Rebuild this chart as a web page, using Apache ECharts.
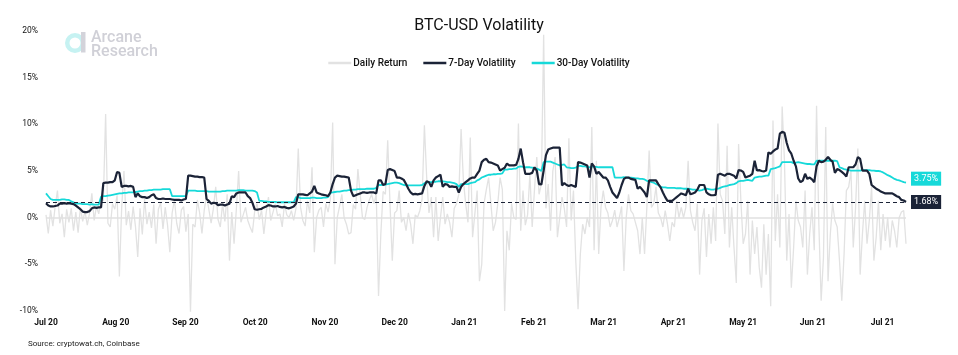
<!DOCTYPE html>
<html>
<head>
<meta charset="utf-8">
<script src="https://cdn.jsdelivr.net/npm/echarts@6/dist/echarts.min.js"></script>
<style>
html,body{margin:0;padding:0;background:#fff;}
#chart{width:958px;height:355px;}
</style>
</head>
<body>
<div id="chart"></div>
<script>
// Month tick labels (equally spaced on the x axis, ~30.4 days apart)
var monthLabels = ['Jul 20','Aug 20','Sep 20','Oct 20','Nov 20','Dec 20','Jan 21','Feb 21','Mar 21','Apr 21','May 21','Jun 21','Jul 21'];
var monthStep = 30.4;
var yTicks = [-10, -5, 0, 5, 10, 15, 20];

// Daily return (%), one value per day from 1 Jul 2020
var dailyReturn = [
0.3,-1.7,0.8,-0.9,1.2,2.9,-0.6,0.4,-2.1,0.9,
-0.5,1.0,-1.4,0.6,-1.6,1.1,-0.4,0.7,-0.8,0.5,
2.6,-0.3,1.2,0.4,2.0,1.8,11.1,-0.6,-1.0,1.5,
0.9,2.4,-6.3,1.1,5.0,-0.8,0.7,-1.3,1.2,-0.9,
-4.2,1.0,-1.8,2.0,-0.7,0.6,-1.1,1.4,-2.8,0.9,
1.6,-1.2,1.1,-0.8,-3.7,0.5,1.9,-0.6,-1.7,0.8,
1.2,-1.5,0.4,-10.1,-0.7,-1.0,1.9,0.5,-1.7,0.8,
2.4,0.9,-0.6,1.0,3.3,-0.2,-1.0,1.5,-0.4,2.5,
-4.6,0.6,-2.8,0.9,5.0,-0.5,0.3,1.1,-0.3,-1.0,
-1.6,0.7,1.5,-0.2,0.8,-1.75,0.5,2.2,-0.3,0.6,
1.5,0.2,0.4,-1.0,1.5,0.3,0.0,0.75,-0.3,1.0,
7.4,1.1,-0.3,-0.9,1.8,0.5,5.4,-3.7,0.0,0.8,
1.1,-1.0,1.5,0.6,2.0,10.2,-5.0,0.0,1.2,2.5,
0.0,-0.7,-1.75,-1.6,1.4,0.9,5.2,2.5,0.0,-0.2,
1.1,1.9,2.5,1.5,2.5,-8.4,-1.75,2.8,2.5,8.3,
1.5,-4.6,0.5,0.75,2.9,-0.5,0.0,-1.4,0.5,-0.7,
-2.8,0.3,0.04,0.75,2.0,9.9,4.3,0.5,2.2,-2.1,
2.2,-2.5,0.0,2.2,-0.7,0.4,-0.5,-2.1,1.0,1.5,
2.5,9.5,4.0,1.5,-0.5,8.6,-2.1,0.4,2.9,-6.8,
-5.0,1.5,3.0,4.3,1.5,-1.4,-0.5,1.5,4.3,3.0,
-10.0,-1.4,-3.5,1.5,0.0,-0.2,10.1,-1.4,2.9,-0.8,
0.3,4.7,-1.0,3.0,6.5,2.5,3.6,19.6,1.0,3.6,
-1.4,5.0,6.5,-2.1,0.0,2.2,1.0,-1.0,8.5,-0.3,
2.9,-4.6,-9.8,-3.9,-0.7,-1.75,0.0,-1.0,9.7,-3.5,
6.1,-3.9,1.1,2.9,1.1,0.5,-1.0,-0.3,0.8,-1.0,
0.0,1.2,-5.7,0.0,2.5,0.75,0.4,-0.5,-1.4,-3.9,
0.0,-3.9,1.1,7.2,1.1,1.5,3.3,0.5,0.0,-1.0,
0.75,-0.7,-2.5,-0.5,-1.0,1.8,0.0,1.1,0.0,1.1,
6.1,0.75,-0.5,-1.4,1.5,-6.1,-0.3,1.0,-4.2,0.4,
-2.8,1.1,-2.5,10.1,2.5,1.8,-1.75,7.7,-3.2,1.1,
-3.2,-7.0,7.9,1.8,-2.8,-1.75,1.8,-6.1,-0.3,-3.9,
-1.0,-5.3,-7.5,-0.7,-6.1,-1.75,-9.5,10.4,-2.5,2.5,
-3.2,11.9,6.1,-4.6,0.4,-7.5,-3.2,1.8,-0.3,-1.0,
-3.2,2.9,-6.1,-1.75,1.1,-3.5,12.0,-0.7,-8.9,-4.3,
9.7,-6.8,-1.75,1.5,-0.3,-1.0,-4.6,-8.9,-3.9,2.9,
3.3,5.0,-3.2,1.0,7.4,-6.1,-1.75,1.8,-2.8,-0.3,
3.3,-4.6,-2.1,1.8,-3.5,0.4,-2.5,0.0,-3.2,-0.3,
-1.4,-3.2,0.0,0.6,0.75,-2.8
];

// 7-day volatility (%)
var vol7 = [
1.55,1.3,1.2,1.2,1.25,1.3,1.5,1.5,1.55,1.5,
1.55,1.5,1.45,1.3,1.1,0.9,0.65,0.6,0.6,0.7,
1.0,1.1,1.05,1.1,1.1,3.7,3.75,3.75,3.8,3.8,
4.0,4.9,4.8,3.3,3.4,3.4,3.35,3.4,3.3,2.2,
2.6,2.3,2.2,2.2,2.1,2.2,2.4,2.5,2.1,2.0,
2.0,2.05,2.0,2.0,2.0,1.95,1.9,1.9,1.9,1.85,
1.95,2.0,4.5,4.5,4.45,4.4,4.4,4.35,4.35,4.3,
2.0,1.8,1.5,1.6,1.55,1.35,1.4,1.4,1.3,1.4,
1.5,2.3,2.2,2.6,2.7,2.7,2.7,2.7,2.3,2.1,
1.6,0.9,0.85,0.9,0.95,1.1,1.2,1.35,1.3,1.2,
1.2,1.25,1.15,1.1,1.15,1.05,1.0,1.1,1.2,1.5,
2.5,2.5,2.5,2.45,2.4,2.6,2.8,3.4,2.7,2.6,
2.5,2.45,2.4,2.3,2.7,3.6,4.3,4.5,4.45,4.4,
4.4,4.35,4.3,2.9,2.3,2.4,2.5,2.6,2.7,2.7,
2.65,2.7,2.7,2.7,2.6,4.0,4.0,3.5,3.6,5.1,
5.2,5.1,5.0,4.3,4.3,4.2,4.05,3.6,3.1,2.7,
2.5,2.55,2.5,2.55,2.6,3.4,3.9,3.8,3.3,4.0,
4.3,4.45,4.6,3.3,3.6,3.55,3.3,3.35,3.3,3.3,
2.7,3.3,3.6,3.8,4.0,4.2,4.3,4.3,4.7,5.05,
5.95,6.2,6.3,5.95,5.9,5.8,5.7,5.6,5.05,5.2,
5.35,5.8,5.6,5.6,5.6,5.65,6.3,7.4,5.95,4.7,
4.7,4.7,4.8,5.4,5.05,3.6,3.55,5.05,6.7,7.3,
7.4,7.5,7.5,7.5,7.5,3.45,3.7,3.5,3.4,3.5,
3.4,3.3,5.95,5.9,5.8,5.7,5.6,4.3,5.8,5.5,
4.7,4.9,4.6,4.3,4.3,4.0,3.3,2.7,2.4,2.1,
2.7,3.5,4.15,4.3,4.3,4.15,4.1,4.05,3.1,3.3,
3.0,2.7,2.2,4.0,4.0,4.0,4.0,3.6,3.25,2.7,
2.2,1.8,1.8,1.8,2.0,2.2,2.4,2.6,2.5,2.4,
3.1,2.5,2.6,2.7,3.0,3.5,3.5,3.5,2.7,2.5,
2.4,2.4,2.45,4.6,4.7,4.6,4.5,4.7,4.7,4.6,
4.5,4.2,5.1,5.05,4.9,4.3,4.4,4.5,4.7,6.1,
5.05,5.1,5.0,4.95,5.05,7.0,6.85,7.1,7.3,7.4,
9.0,9.2,9.1,8.0,7.2,6.85,6.1,5.5,4.2,3.8,
3.97,4.7,4.15,4.3,4.1,3.8,5.5,6.1,5.95,6.0,
6.2,6.5,6.2,6.0,4.8,5.2,5.1,4.9,4.7,4.4,
5.4,5.4,5.4,5.7,6.5,6.3,5.05,5.05,5.05,4.7,
3.5,3.3,3.1,2.97,2.8,2.7,2.6,2.6,2.6,2.6,
2.45,2.3,2.2,1.9,1.84,1.68
];

// 30-day volatility (%)
var vol30 = [
2.6,2.3,2.0,1.9,1.9,1.9,1.9,1.95,1.95,1.9,
1.9,1.75,1.65,1.5,1.5,1.5,1.45,1.45,1.45,1.4,
1.45,1.4,1.4,1.4,2.25,2.3,2.3,2.35,2.4,2.45,
2.5,2.55,2.6,2.6,2.65,2.65,2.7,2.7,2.7,2.75,
2.8,2.85,2.85,2.9,2.9,2.95,2.95,3.0,3.0,3.0,
3.0,3.05,3.05,3.05,3.05,2.3,2.3,2.3,2.3,2.3,
2.3,2.3,2.9,2.9,2.9,2.9,2.85,2.85,2.85,2.85,
2.85,2.8,2.8,2.8,2.8,2.8,2.8,2.85,2.85,2.9,
2.9,2.9,2.9,2.9,2.95,2.95,2.95,2.9,2.9,2.9,
2.9,2.85,2.7,1.8,1.8,1.75,1.75,1.7,1.7,1.7,
1.7,1.65,1.65,1.65,1.65,1.65,1.65,1.65,1.65,2.2,
2.2,2.1,2.1,2.1,2.1,2.1,2.15,2.15,2.1,2.1,
2.1,2.15,2.15,2.2,2.65,2.7,2.75,2.8,2.8,2.85,
2.9,2.9,2.95,2.95,3.0,3.0,3.05,3.05,3.05,3.05,
3.1,3.1,3.1,3.1,3.2,3.5,3.5,3.55,3.55,3.6,
3.65,3.7,3.75,3.75,3.7,3.6,3.5,3.45,3.45,3.45,
3.45,3.45,3.45,3.45,3.5,3.7,3.75,3.8,3.8,3.85,
3.85,3.9,3.9,3.9,3.85,3.8,3.8,3.75,3.7,3.6,
3.3,3.6,3.6,3.6,3.6,3.7,3.75,3.8,4.0,4.1,
4.3,4.4,4.5,4.6,4.6,4.65,4.65,4.7,4.7,4.75,
5.15,5.15,5.2,5.2,5.25,5.25,5.45,5.5,5.45,5.4,
5.4,5.4,5.35,5.3,5.25,5.15,5.0,5.95,6.0,6.0,
6.0,5.9,5.8,5.7,5.6,5.65,5.7,5.4,5.35,5.3,
5.3,5.35,5.55,5.55,5.5,5.5,5.45,5.4,5.5,5.45,
5.45,5.4,5.4,5.4,5.4,5.4,5.4,5.4,4.3,4.3,
4.3,4.3,4.35,4.3,4.3,4.3,4.25,4.2,4.2,4.15,
4.15,4.1,3.95,3.9,3.8,3.75,3.6,3.5,3.3,3.25,
3.25,3.2,3.2,3.2,3.2,3.15,3.15,3.15,3.1,3.1,
3.1,3.05,3.0,3.0,2.95,2.9,2.95,3.05,3.1,3.05,
3.0,3.0,3.05,3.1,3.2,3.3,3.35,3.4,3.5,3.55,
3.6,3.7,3.9,3.95,3.95,4.0,4.05,4.0,3.95,4.3,
4.35,4.4,4.4,4.45,4.5,4.5,5.2,5.25,5.3,5.4,
5.5,5.95,5.95,5.95,5.95,5.95,5.85,5.9,5.95,5.9,
5.85,5.8,5.75,5.75,5.7,5.7,6.1,6.1,6.1,6.1,
6.1,6.1,6.1,6.1,6.1,6.05,5.4,5.3,5.2,5.15,
5.1,5.05,5.05,5.05,5.05,5.05,5.1,5.1,5.1,5.1,
5.05,5.05,5.0,5.0,4.95,4.85,4.7,4.55,4.45,4.3,
4.15,4.05,4.0,3.9,3.8,3.75
];

var C_GRAY = '#e2e2e2';
var C_DARK = '#1b2337';
var C_CYAN = '#16d9d9';

function pairs(arr){ return arr.map(function(v,i){ return [i, v]; }); }
var lastIdx = dailyReturn.length - 1;
var last7 = vol7[vol7.length - 1];

var chart = echarts.init(document.getElementById('chart'), null, {renderer:'canvas'});
chart.setOption({
  animation: false,
  backgroundColor: '#ffffff',
  textStyle: { fontFamily: 'Roboto, "Open Sans", sans-serif' },
  title: {
    text: 'BTC-USD Volatility',
    left: 'center',
    top: 13,
    textStyle: { fontSize: 16, fontWeight: 'normal', color: '#111', fontFamily: 'Roboto' }
  },
  legend: {
    top: 53,
    left: 'center',
    icon: 'rect',
    itemWidth: 23,
    itemHeight: 2.5,
    itemGap: 16,
    textStyle: { fontSize: 10, fontWeight: 500, color: '#111', padding: [0,0,0,-3] },
    data: ['Daily Return', '7-Day Volatility', '30-Day Volatility']
  },
  grid: { left: 46, top: 31, width: 860, height: 280, containLabel: false },
  xAxis: {
    type: 'value',
    min: 0,
    max: lastIdx,
    interval: monthStep,
    axisLine: { show: false },
    axisTick: { show: false },
    splitLine: { show: false },
    axisLabel: {
      margin: 7,
      fontSize: 8.5,
      fontWeight: 'bold',
      color: '#111',
      showMaxLabel: false,
      formatter: function(v){
        var k = Math.round(v / monthStep);
        if (Math.abs(v - k * monthStep) < 0.01 && k < monthLabels.length) return monthLabels[k];
        return '';
      }
    }
  },
  yAxis: {
    type: 'value',
    min: yTicks[0],
    max: yTicks[yTicks.length - 1],
    interval: 5,
    axisLine: { show: false },
    axisTick: { show: false },
    splitLine: { show: false },
    axisLabel: { margin: 8, fontSize: 8.5, color: '#111', formatter: '{value}%' }
  },
  graphic: [
    { type: 'ring', shape: { cx: 75, cy: 43, r: 10, r0: 5.5 }, style: { fill: '#c6f2f2' }, z: 0 },
    { type: 'rect', shape: { x: 81, y: 32, width: 4.5, height: 20.5 }, style: { fill: '#d3d3da' }, z: 0 },
    { type: 'text', left: 91, top: 30, style: { text: 'Arcane', fontSize: 16, fontWeight: 500, fill: '#d0d0d7', fontFamily: 'Roboto' }, z: 0 },
    { type: 'text', left: 91, top: 44, style: { text: 'Research', fontSize: 16, fontWeight: 500, fill: '#d0d0d7', fontFamily: 'Roboto' }, z: 0 },
    { type: 'text', left: 28, top: 340, style: { text: 'Source: cryptowat.ch, Coinbase', fontSize: 8, fill: '#222', fontFamily: 'Roboto' } }
  ],
  series: [
    {
      name: 'Daily Return',
      type: 'line',
      data: pairs(dailyReturn),
      symbol: 'none',
      z: 1,
      lineStyle: { color: C_GRAY, width: 1.3 },
      itemStyle: { color: C_GRAY },
      markLine: {
        silent: true,
        symbol: 'none',
        label: { show: false },
        lineStyle: { color: '#e0e0e0', type: 'solid', width: 1.5 },
        data: [{ yAxis: 0 }]
      }
    },
    {
      name: '7-Day Volatility',
      type: 'line',
      data: pairs(vol7),
      symbol: 'none',
      z: 4,
      lineStyle: { color: C_DARK, width: 2.2 },
      itemStyle: { color: C_DARK },
      endLabel: {
        show: true,
        distance: 5,
        formatter: function(p){ return p.value[1].toFixed(2) + '%'; },
        backgroundColor: C_DARK,
        color: '#fff',
        fontSize: 9,
        padding: [3, 3, 2, 3]
      },
      markLine: {
        silent: true,
        symbol: 'none',
        label: { show: false },
        lineStyle: { color: C_DARK, type: [4, 3], width: 1.2 },
        data: [{ yAxis: last7 }]
      }
    },
    {
      name: '30-Day Volatility',
      type: 'line',
      data: pairs(vol30),
      symbol: 'none',
      z: 3,
      lineStyle: { color: C_CYAN, width: 1.8 },
      itemStyle: { color: C_CYAN },
      endLabel: {
        show: true,
        distance: 5,
        offset: [0, -4],
        formatter: function(p){ return p.value[1].toFixed(2) + '%'; },
        backgroundColor: C_CYAN,
        color: '#fff',
        fontSize: 9,
        padding: [3, 3, 2, 3]
      }
    }
  ]
});
</script>
</body>
</html>
